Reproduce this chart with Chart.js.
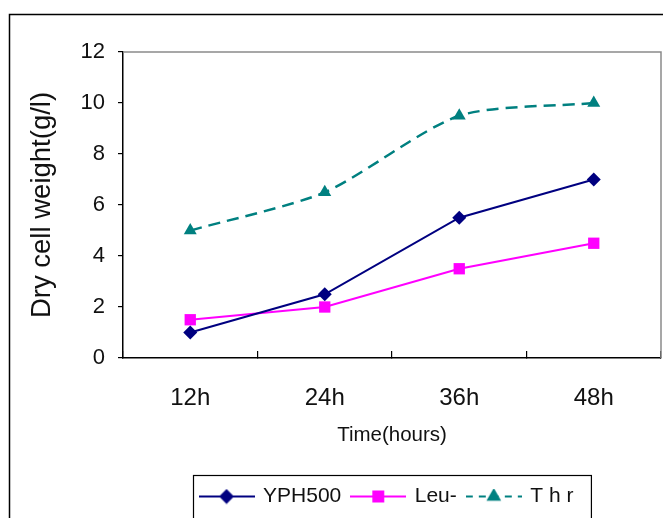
<!DOCTYPE html>
<html>
<head>
<meta charset="utf-8">
<script src="https://cdn.jsdelivr.net/npm/chart.js@4.4.0/dist/chart.umd.min.js"></script>
<style>
  html, body { margin: 0; padding: 0; background: #fff; }
  #wrap { width: 663px; height: 518px; }
</style>
</head>
<body>
<div id="wrap"><canvas id="dcwChart" width="663" height="518"></canvas></div>
<script>
// Dry cell weight per strain, sampled every 12 hours
const hours = ['12h', '24h', '36h', '48h'];
const yph500 = [1, 2.5, 5.5, 7];
const leu = [1.5, 2, 3.5, 4.5];
const thr = [5, 6.5, 9.5, 10];
const seriesNames = ['YPH500', 'Leu-', 'T h r'];
const yTicks = [0, 2, 4, 6, 8, 10, 12];

const FONT = "'Liberation Sans', Arial, sans-serif";
const TEXT = '#111';

const styles = [
  { color: '#000080', pointStyle: 'rectRot', radius: 7, dash: [] },
  { color: '#ff00ff', pointStyle: 'rect', radius: 8, dash: [] },
  { color: '#008080', pointStyle: 'triangle', radius: 7.5, dash: [12, 7] },
];

// small line+marker swatches used as legend icons
function makeIcon(s) {
  const c = document.createElement('canvas');
  c.width = 56; c.height = 16;
  const g = c.getContext('2d');
  g.strokeStyle = s.color;
  g.lineWidth = 2;
  g.setLineDash(s.dash.length ? [7, 6] : []);
  g.beginPath();
  g.moveTo(0, 8); g.lineTo(56, 8);
  g.stroke();
  g.setLineDash([]);
  g.fillStyle = s.color;
  Chart.helpers.drawPoint(g, { pointStyle: s.pointStyle, radius: s.radius - 1, rotation: 0, borderWidth: 1 }, 28, 8);
  return c;
}
const icons = styles.map(makeIcon);

const frame = {
  id: 'frame',
  afterLayout(chart) {
    // centre the legend box under the plot area rather than the canvas
    const lg = chart.legend, a = chart.chartArea;
    if (!lg) return;
    const shift = (a.left + a.right) / 2 - (lg.left + lg.right) / 2 - 5;
    lg.left += shift;
    lg.right += shift;
  },
  beforeDraw(chart) {
    const ctx = chart.ctx;
    ctx.save();
    ctx.strokeStyle = '#000';
    ctx.lineWidth = 1.5;
    ctx.strokeRect(9.5, 14.5, 700, 600);
    ctx.restore();
  },
  beforeDatasetsDraw(chart) {
    const { ctx, chartArea: a } = chart;
    ctx.save();
    ctx.strokeStyle = '#8a8a8a';
    ctx.lineWidth = 1.5;
    ctx.beginPath();
    ctx.moveTo(a.left, a.top);
    ctx.lineTo(a.right, a.top);
    ctx.lineTo(a.right, a.bottom);
    ctx.stroke();
    ctx.restore();
  },
  afterDraw(chart) {
    const lg = chart.legend;
    if (!lg || !lg.legendHitBoxes.length) return;
    const boxes = lg.legendHitBoxes;
    const left = Math.min(...boxes.map(b => b.left)) - 8;
    const right = Math.max(...boxes.map(b => b.left + b.width)) + 17;
    const ctx = chart.ctx;
    ctx.save();
    ctx.strokeStyle = '#000';
    ctx.lineWidth = 1.2;
    ctx.strokeRect(Math.round(left) + 0.5, Math.round(lg.top) + 0.5, right - left, 60);
    ctx.restore();
  },
};

const data = [yph500, leu, thr];

new Chart(document.getElementById('dcwChart'), {
  type: 'line',
  data: {
    labels: hours,
    datasets: data.map((vals, i) => ({
      label: seriesNames[i],
      data: vals,
      borderColor: styles[i].color,
      backgroundColor: styles[i].color,
      borderWidth: i === 2 ? 2.5 : 2,
      borderDash: styles[i].dash,
      pointStyle: styles[i].pointStyle,
      pointRadius: styles[i].radius,
      pointBorderWidth: 0,
      tension: i === 2 ? 0.25 : 0,
      fill: false,
    })),
  },
  options: {
    responsive: false,
    animation: false,
    layout: { autoPadding: false, padding: { top: 52, right: 2, bottom: 1, left: 0 } },
    plugins: {
      tooltip: { enabled: false },
      legend: {
        position: 'bottom',
        labels: {
          usePointStyle: true,
          pointStyleWidth: 52,
          boxHeight: 16,
          padding: 11,
          color: TEXT,
          font: { family: FONT, size: 21 },
          generateLabels: (chart) => chart.data.datasets.map((ds, i) => ({
            text: ds.label,
            pointStyle: icons[i],
            fillStyle: ds.borderColor,
            strokeStyle: ds.borderColor,
            lineWidth: 0,
            fontColor: TEXT,
            datasetIndex: i,
          })),
        },
      },
    },
    scales: {
      x: {
        type: 'category',
        offset: true,
        afterFit: (s) => { s.height = 117; s.paddingLeft = 0; s.paddingRight = 0; },
        grid: { offset: true, drawOnChartArea: false, drawTicks: true, tickLength: -7, color: '#000', lineWidth: 1.2 },
        border: { color: '#000', width: 1.5 },
        ticks: { color: TEXT, font: { family: FONT, size: 24 }, padding: 33 },
        title: {
          display: true,
          text: 'Time(hours)',
          color: TEXT,
          font: { family: FONT, size: 20.5 },
          padding: { top: 0, bottom: 27 },
        },
      },
      y: {
        min: 0,
        max: 12,
        afterFit: (s) => { s.width = 123; },
        afterBuildTicks: (s) => { s.ticks = yTicks.map(v => ({ value: v })); },
        grid: { drawOnChartArea: false, drawTicks: true, tickLength: 5, color: '#000', lineWidth: 1.2 },
        border: { color: '#000', width: 1.5 },
        ticks: { color: TEXT, font: { family: FONT, size: 22 }, padding: 13 },
        title: {
          display: true,
          text: 'Dry cell weight(g/l)',
          color: TEXT,
          font: { family: FONT, size: 27.5 },
          padding: { top: 26, bottom: 0 },
        },
      },
    },
  },
  plugins: [frame],
});
</script>
</body>
</html>
